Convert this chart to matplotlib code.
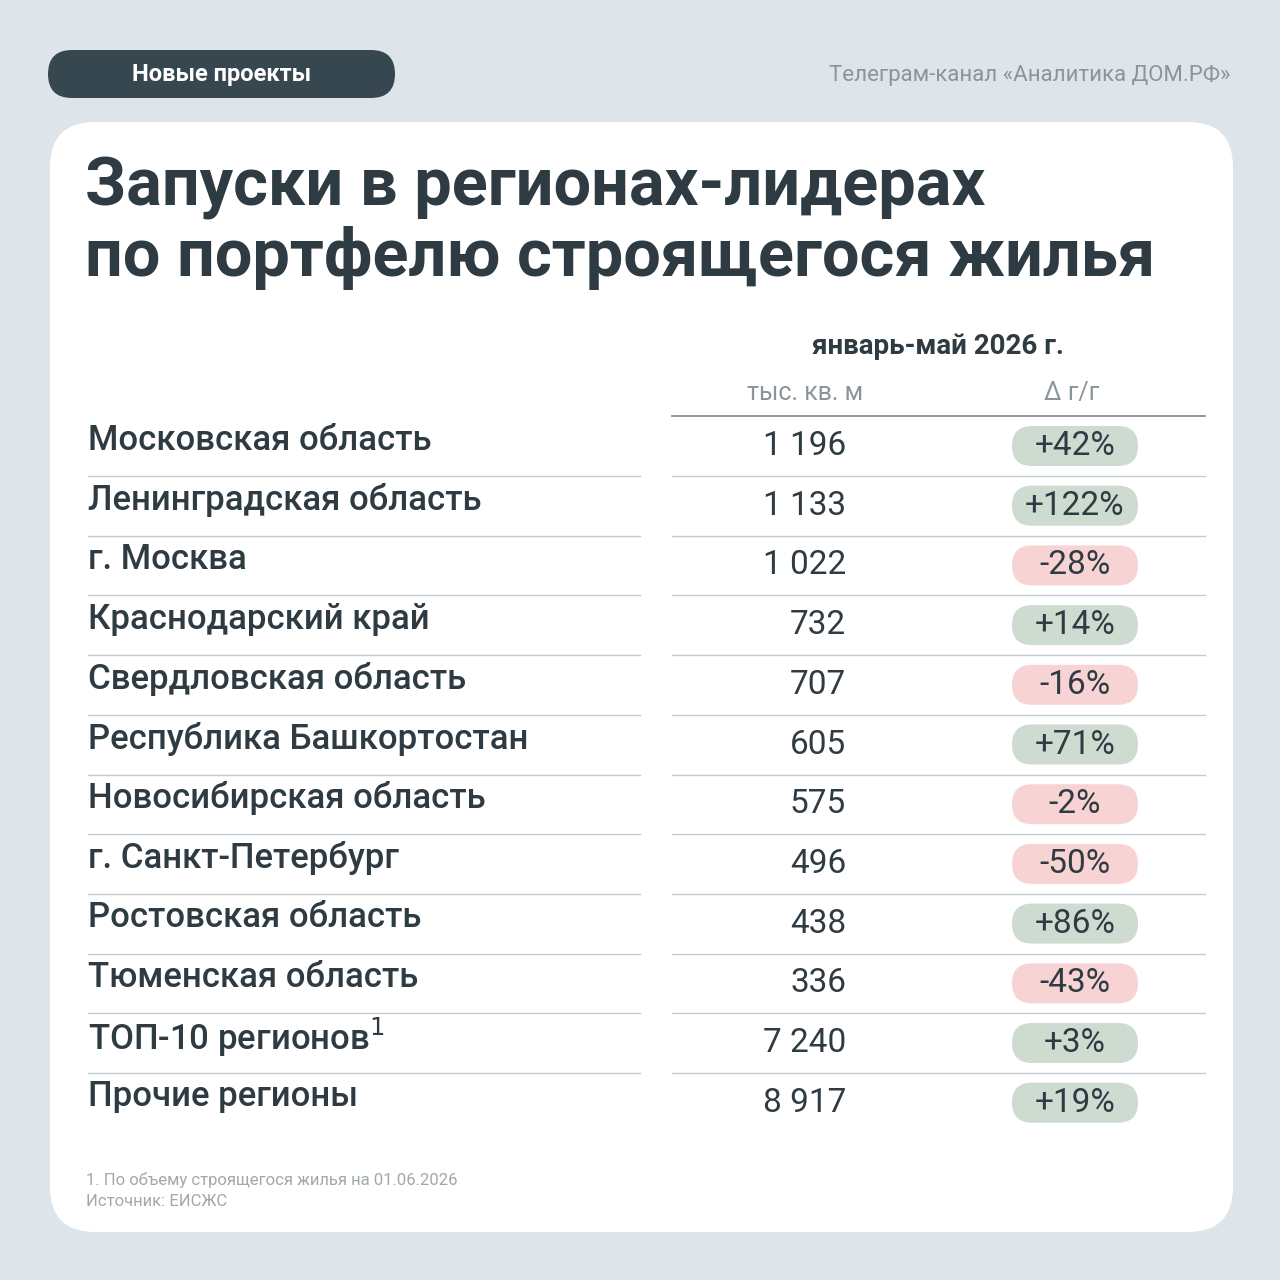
import matplotlib
matplotlib.use("Agg")
import matplotlib.pyplot as plt
from matplotlib.patches import FancyBboxPatch

regions = ["Московская область", "Ленинградская область", "г. Москва", "Краснодарский край",
           "Свердловская область", "Республика Башкортостан", "Новосибирская область",
           "г. Санкт-Петербург", "Ростовская область", "Тюменская область",
           "ТОП-10 регионов$^{1}$", "Прочие регионы"]
values = ["1 196", "1 133", "1 022", "732", "707", "605", "575", "496", "438", "336", "7 240", "8 917"]
changes = [42, 122, -28, 14, -16, 71, -2, -50, 86, -43, 3, 19]

plt.rcParams['font.family'] = ['Roboto', 'DejaVu Sans']
fig = plt.figure(figsize=(12.8, 12.8), dpi=100)
fig.patch.set_facecolor('#dde4ea')
ax = fig.add_axes([0, 0, 1, 1])
ax.set_xlim(0, 1280); ax.set_ylim(1280, 0); ax.axis('off')

dark = '#2f3b42'
ax.add_patch(FancyBboxPatch((50, 122), 1183, 1110, boxstyle="round,pad=0,rounding_size=45",
                            fc='white', ec='none'))
ax.add_patch(FancyBboxPatch((48, 50), 347, 48, boxstyle="round,pad=0,rounding_size=24",
                            fc='#37474f', ec='none'))
ax.text(222, 75, "Новые проекты", color='white', fontsize=17, fontweight='bold', ha='center', va='center')
ax.text(1230, 75, "Телеграм-канал «Аналитика ДОМ.РФ»", color='#8a949b', fontsize=16, ha='right', va='center')

ax.text(85, 188, "Запуски в регионах-лидерах", color=dark, fontsize=48, fontweight='bold', va='center')
ax.text(85, 258, "по портфелю строящегося жилья", color=dark, fontsize=48, fontweight='bold', va='center')

ax.text(938, 347, "январь-май 2026 г.", color=dark, fontsize=20, fontweight='bold', ha='center', va='center')
ax.text(805, 393, "тыс. кв. м", color='#8a949b', fontsize=18, ha='center', va='center')
ax.text(1072, 393, "Δ г/г", color='#8a949b', fontsize=18, ha='center', va='center')
ax.plot([672, 1205], [416, 416], color='#7a858c', lw=1.2)

step = 59.7
for i, (r, v, c) in enumerate(zip(regions, values, changes)):
    yt = 440 + i * step
    yv = 446 + i * step
    ax.text(88, yt, r, color=dark, fontsize=25, fontweight='medium', va='center')
    ax.text(846, yv, v, color=dark, fontsize=24, fontweight='normal', ha='right', va='center')
    col = '#cddbd0' if c >= 0 else '#f8d3d3'
    ax.add_patch(FancyBboxPatch((1012, yv - 20), 126, 40, boxstyle="round,pad=0,rounding_size=20",
                                fc=col, ec='none'))
    s = f"+{c}%" if c >= 0 else f"-{abs(c)}%"
    ax.text(1075, yv, s, color=dark, fontsize=24, fontweight='normal', ha='center', va='center')
    if i < len(regions) - 1:
        yl = 476 + i * step
        ax.plot([88, 640], [yl, yl], color='#c5cbcf', lw=1)
        ax.plot([672, 1205], [yl, yl], color='#c5cbcf', lw=1)

ax.text(86, 1180, "1. По объему строящегося жилья на 01.06.2026", color='#a0a8ae', fontsize=12, va='center')
ax.text(86, 1201, "Источник: ЕИСЖС", color='#a0a8ae', fontsize=12, va='center')

fig.savefig("out.png", dpi=100, facecolor=fig.get_facecolor())
